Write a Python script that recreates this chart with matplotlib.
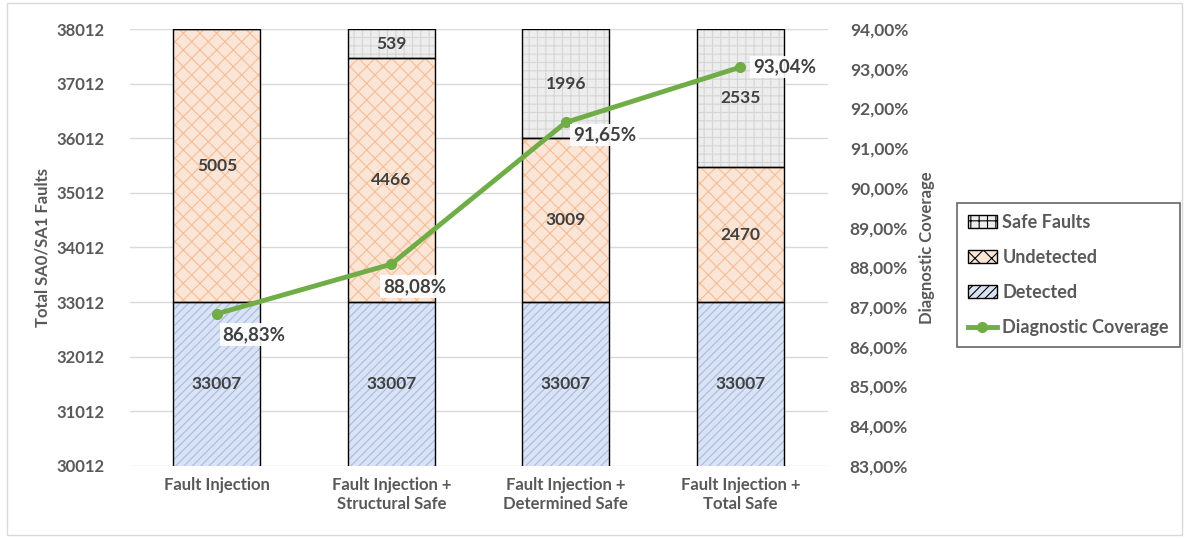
import numpy as np
import matplotlib.pyplot as plt
from matplotlib.patches import Patch, Rectangle
from matplotlib.lines import Line2D

plt.rcParams['font.family'] = ['Lato', 'DejaVu Sans']
plt.rcParams['font.weight'] = 'bold'
plt.rcParams['axes.labelweight'] = 'bold'
plt.rcParams['hatch.linewidth'] = 0.8

categories = ['Fault Injection', 'Fault Injection +\nStructural Safe',
              'Fault Injection +\nDetermined Safe', 'Fault Injection +\nTotal Safe']
detected = [33007, 33007, 33007, 33007]
undetected = [5005, 4466, 3009, 2470]
safe = [0, 539, 1996, 2535]
coverage = [86.83, 88.08, 91.65, 93.04]
cov_labels = ['86,83%', '88,08%', '91,65%', '93,04%']

txt = '#595959'
x = np.arange(len(categories))
w = 0.5
ymin, ymax = 30012, 38012

fig = plt.figure(figsize=(11.89, 5.38), dpi=100)
ax = fig.add_axes([0.109, 0.134, 0.587, 0.812])
ax2 = ax.twinx()

# bars: fill + hatch (hatch colour via edgecolor), then black outline
series = [
    (detected, np.zeros(4), '#dae3f3', '#a5bbe2', '////', 'Detected'),
    (undetected, np.array(detected), '#fbe5d6', '#f6bd94', 'xx', 'Undetected'),
    (safe, np.array(detected) + np.array(undetected), '#ededed', '#d5d5d5', '++', 'Safe Faults'),
]
for vals, bot, fc, hc, h, lab in series:
    ax.bar(x, vals, w, bottom=bot, color=fc, edgecolor=hc, hatch=h, linewidth=0, zorder=2)
    ax.bar(x, vals, w, bottom=bot, fill=False, edgecolor='black', linewidth=1.0, zorder=3)

# bar value labels
for i in range(4):
    ax.text(x[i], (ymin + detected[i]) / 2, str(detected[i]), ha='center', va='center',
            color='#404040', fontsize=12.5, zorder=4)
    ax.text(x[i], detected[i] + undetected[i] / 2, str(undetected[i]), ha='center', va='center',
            color='#404040', fontsize=12.5, zorder=4)
    if safe[i]:
        ax.text(x[i], detected[i] + undetected[i] + safe[i] / 2, str(safe[i]), ha='center', va='center',
                color='#404040', fontsize=12.5, zorder=4)

ax.set_ylim(ymin, ymax)
ax.set_yticks(np.arange(ymin, ymax + 1, 1000))
ax.set_xlim(-0.5, 3.5)
ax.set_xticks(x)
ax.set_xticklabels(categories, color=txt, fontsize=12)
ax.tick_params(axis='y', colors=txt, labelsize=12, length=0, pad=18)
ax.tick_params(axis='x', length=0, pad=8)
ax.grid(axis='y', color='#d9d9d9', linewidth=1, zorder=0)
ax.set_axisbelow(True)
for s in ax.spines.values():
    s.set_visible(False)
for s in ax2.spines.values():
    s.set_visible(False)
ax.set_ylabel('Total SA0/SA1 Faults', color=txt, fontsize=12, labelpad=4)

# coverage line
ax2.plot(x, coverage, color='#70ad47', linewidth=3.5, marker='o', markersize=7, zorder=5)
ax2.set_ylim(83, 94)
ax2.set_yticks(np.arange(83, 94.1, 1))
ax2.set_yticklabels([f'{v:.2f}%'.replace('.', ',') for v in np.arange(83, 94.1, 1)])
ax2.tick_params(axis='y', colors=txt, labelsize=12.5, length=0, pad=16)
ax2.set_ylabel('Diagnostic Coverage', color=txt, fontsize=12, labelpad=8)

offsets = [(4, -15), (-6, -16), (5, -9), (9, 0)]
for i in range(4):
    ax2.annotate(cov_labels[i], (x[i], coverage[i]), xytext=offsets[i], textcoords='offset points',
                 ha='left', va='center', color='#404040', fontsize=13.5, zorder=6,
                 bbox=dict(boxstyle='square,pad=0.15', fc='white', ec='none', alpha=0.9))

handles = [
    Patch(facecolor='#ededed', edgecolor='black', hatch='++', label='Safe Faults'),
    Patch(facecolor='#fbe5d6', edgecolor='black', hatch='xx', label='Undetected'),
    Patch(facecolor='#dae3f3', edgecolor='black', hatch='////', label='Detected'),
    Line2D([0], [0], color='#70ad47', linewidth=3.5, marker='o', markersize=7, label='Diagnostic Coverage'),
]
leg = fig.legend(handles=handles, loc='upper left', bbox_to_anchor=(0.805, 0.623), frameon=True,
                 fancybox=False, edgecolor='#404040', fontsize=13, labelcolor=txt, borderaxespad=0,
                 handlelength=1.6, handletextpad=0.3, labelspacing=1.0, borderpad=0.6)
leg.get_frame().set_linewidth(1.2)

fig.patches.append(Rectangle((0.006, 0.005), 0.988, 0.99, transform=fig.transFigure,
                             fill=False, edgecolor='#d9d9d9', linewidth=1))

fig.savefig('out.png', dpi=100)
